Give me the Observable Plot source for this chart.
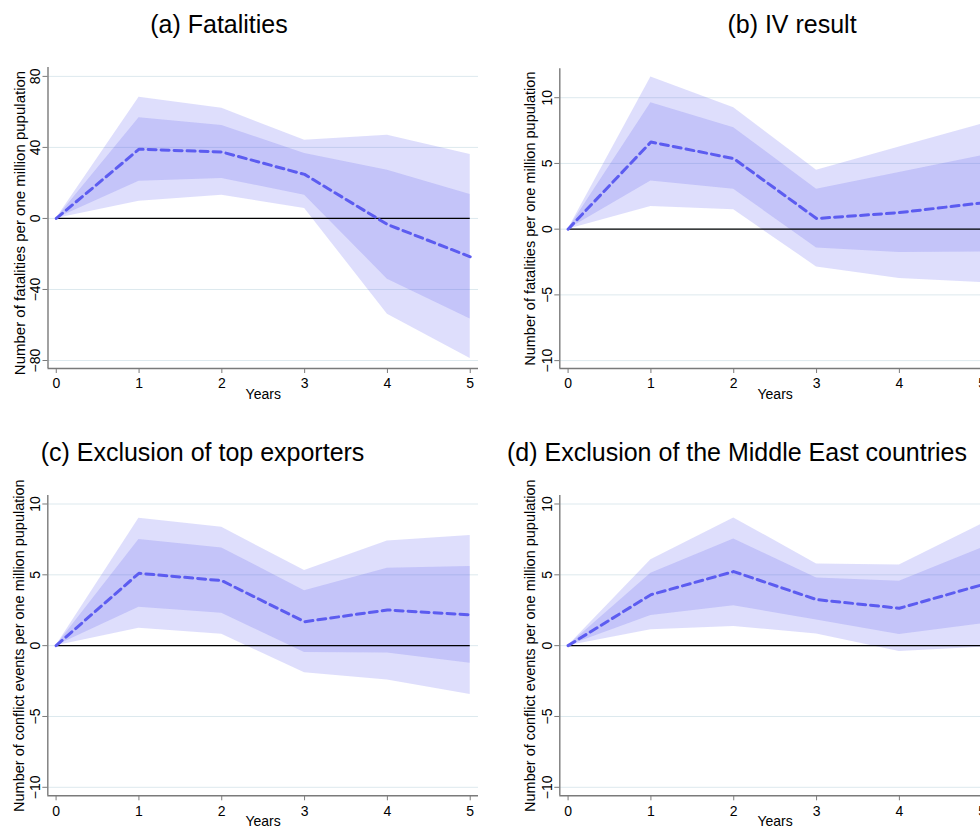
<!DOCTYPE html>
<html>
<head>
<meta charset="utf-8">
<script src="https://cdn.jsdelivr.net/npm/d3@7"></script>
<script src="https://cdn.jsdelivr.net/npm/@observablehq/plot@0.6"></script>
<style>
  html, body { margin: 0; padding: 0; background: #fff; }
  body { width: 980px; height: 831px; overflow: hidden; position: relative; font-family: "Liberation Sans", Arial, sans-serif; }
  .panel { position: absolute; }
  .ptitle { position: absolute; font-size: 25px; line-height: 25px; white-space: nowrap; transform: translateX(-50%); color: #000; }
</style>
</head>
<body>
<script>
// ---- data ----
const years = [0, 1, 2, 3, 4, 5];
const xDomain = [-0.1, 5.1];

const titles = ["(a) Fatalities", "(b) IV result", "(c) Exclusion of top exporters", "(d) Exclusion of the Middle East countries"];
const yLabels = ["Number of fatalities per one million pupulation", "Number of fatalities per one million pupulation",
                 "Number of conflict events per one million pupulation", "Number of conflict events per one million pupulation"];
const xLabel = "Years";

const ticksA = [-80, -40, 0, 40, 80];
const ticksB = [-10, -5, 0, 5, 10];

// (a) Fatalities
const meanA  = [0, 39.0, 37.4, 24.8, -3.4, -21.6];
const outHiA = [0, 68.2, 62.0, 44.1, 46.8, 36.0];
const inHiA  = [0, 56.7, 52.4, 36.6, 27.2, 13.5];
const inLoA  = [0, 21.0, 22.5, 13.1, -34.2, -56.6];
const outLoA = [0, 9.7, 13.0, 5.6, -53.9, -78.9];

// (b) IV result
const meanB  = [0, 6.63, 5.37, 0.81, 1.26, 2.0];
const outHiB = [0, 11.57, 9.24, 4.48, 6.25, 8.0];
const inHiB  = [0, 9.62, 7.72, 3.04, 4.32, 5.6];
const inLoB  = [0, 3.67, 3.04, -1.44, -1.78, -1.73];
const outLoB = [0, 1.72, 1.47, -2.87, -3.75, -4.06];

// (c) Exclusion of top exporters
const meanC  = [0, 5.11, 4.59, 1.69, 2.52, 2.17];
const outHiC = [0, 8.99, 8.36, 5.30, 7.39, 7.77];
const inHiC  = [0, 7.49, 6.90, 3.88, 5.46, 5.58];
const inLoC  = [0, 2.71, 2.28, -0.49, -0.52, -1.25];
const outLoC = [0, 1.22, 0.80, -1.91, -2.43, -3.44];

// (d) Exclusion of the Middle East countries
const meanD  = [0, 3.60, 5.23, 3.25, 2.64, 4.3];
const outHiD = [0, 6.07, 9.02, 5.77, 5.70, 8.6];
const inHiD  = [0, 5.11, 7.53, 4.78, 4.54, 6.9];
const inLoD  = [0, 2.12, 2.82, 1.81, 0.78, 1.55];
const outLoD = [0, 1.13, 1.36, 0.83, -0.42, -0.1];

// ---- drawing ----
const FONT = '"Liberation Sans", Arial, sans-serif';
const AXIS = "#7a7a7a";

function panel(cfg) {
  const rows = years.map((x, i) => ({
    x, mean: cfg.mean[i], inLo: cfg.inLo[i], inHi: cfg.inHi[i], outLo: cfg.outLo[i], outHi: cfg.outHi[i]
  }));
  const svg = Plot.plot({
    width: cfg.w, height: cfg.h,
    marginTop: cfg.mt, marginBottom: cfg.mb, marginLeft: cfg.ml, marginRight: cfg.mr,
    style: {fontFamily: FONT, fontSize: "14px", color: "#000", background: "transparent", overflow: "visible"},
    x: {domain: xDomain},
    y: {domain: cfg.yDomain},
    marks: [
      Plot.gridY(cfg.ticks, {stroke: "#dde9ee", strokeOpacity: 1, strokeWidth: 1}),
      Plot.areaY(rows, {x: "x", y1: "outLo", y2: "outHi", fill: "#5050f0", fillOpacity: 0.19}),
      Plot.areaY(rows, {x: "x", y1: "inLo", y2: "inHi", fill: "#5050f0", fillOpacity: 0.18}),
      Plot.ruleY([0], {x1: years[0], x2: years[years.length - 1], stroke: "#000", strokeWidth: 1.3}),
      Plot.lineY(rows, {x: "x", y: "mean", stroke: "#5c5cf0", strokeWidth: 3, strokeDasharray: "8,5"}),
      Plot.ruleX([xDomain[0]], {stroke: AXIS, strokeWidth: 1.4}),
      Plot.ruleY([cfg.yDomain[0]], {stroke: AXIS, strokeWidth: 1.4}),
      Plot.axisX(years, {tickSize: 5, tickPadding: 5, stroke: AXIS, fill: "#000", label: null, fontSize: 14}),
      Plot.axisY(cfg.ticks, {tickSize: 5, tickPadding: 3, tickRotate: -90, stroke: AXIS, fill: "#000", label: null, fontSize: 14}),
      Plot.text([xLabel], {frameAnchor: "bottom", dy: 30, fontSize: 14, fill: "#000"}),
      Plot.text([cfg.ylabel], {frameAnchor: "left", rotate: -90, textAnchor: "middle", lineAnchor: "middle",
        dx: cfg.labDx, dy: cfg.labDy, fontSize: cfg.labFs, fill: "#000"})
    ]
  });
  svg.style.maxWidth = "none";
  const wrap = document.createElement("div");
  wrap.className = "panel";
  wrap.style.left = cfg.left + "px";
  wrap.style.top = cfg.top + "px";
  wrap.style.width = cfg.w + "px";
  wrap.appendChild(svg);
  document.body.appendChild(wrap);
}

panel({left: 0, top: 50, w: 490, h: 363, mt: 17, mb: 45, ml: 47.5, mr: 12,
  yDomain: [-84.5, 85], ticks: ticksA, mean: meanA, inLo: inLoA, inHi: inHiA, outLo: outLoA, outHi: outHiA,
  ylabel: yLabels[0], labDx: -28, labDy: 5, labFs: 15});
panel({left: 512, top: 50, w: 490, h: 363, mt: 18.3, mb: 45, ml: 47.3, mr: 12,
  yDomain: [-10.6, 12.2], ticks: ticksB, mean: meanB, inLo: inLoB, inHi: inHiB, outLo: outLoB, outHi: outHiB,
  ylabel: yLabels[1], labDx: -29, labDy: 0, labFs: 14.5});
panel({left: 0, top: 470, w: 490, h: 361.3, mt: 25, mb: 36, ml: 47.3, mr: 12,
  yDomain: [-10.6, 10.6], ticks: ticksB, mean: meanC, inLo: inLoC, inHi: inHiC, outLo: outLoC, outHi: outHiC,
  ylabel: yLabels[2], labDx: -28, labDy: 0, labFs: 14.5});
panel({left: 512, top: 470, w: 490, h: 361.3, mt: 25, mb: 36, ml: 47.3, mr: 12,
  yDomain: [-10.6, 10.6], ticks: ticksB, mean: meanD, inLo: inLoD, inHi: inHiD, outLo: outLoD, outHi: outHiD,
  ylabel: yLabels[3], labDx: -29, labDy: 0, labFs: 14.5});

// panel titles
const titlePos = [[219, 33], [792, 33], [202.5, 461.5], [737, 461.5]];
titles.forEach((t, i) => {
  const d = document.createElement("div");
  d.className = "ptitle";
  d.textContent = t;
  d.style.left = titlePos[i][0] + "px";
  d.style.top = (titlePos[i][1] - 21.2) + "px";
  document.body.appendChild(d);
});
</script>
</body>
</html>
